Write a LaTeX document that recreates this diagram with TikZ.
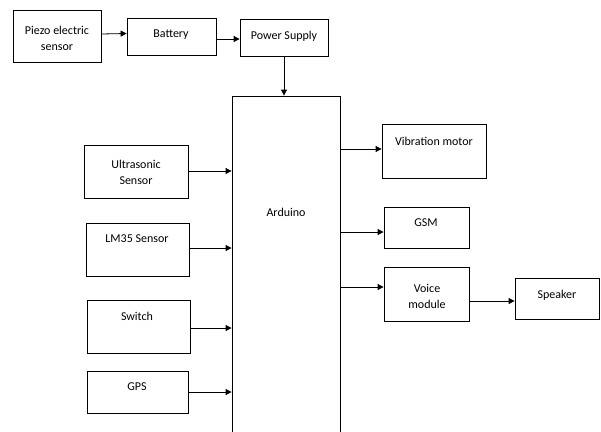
\documentclass[tikz,border=0pt]{standalone}
\usepackage{fontspec}
\setmainfont{Carlito}
\usetikzlibrary{arrows.meta,calc}
\begin{document}
\begin{tikzpicture}[x=1pt,y=-1pt,
  box/.style={draw=black,line width=0.8pt,inner sep=0pt},
  txt/.style={font=\fontsize{12}{14}\selectfont,inner sep=0pt,align=center},
  arr/.style={line width=0.8pt,-{Triangle[length=6pt,width=6pt]}}]
\useasboundingbox (0,0) rectangle (601,431);
\fill[white] (0,0) rectangle (601,431);
% boxes: (centre) minimum sizes from pixel extents
\node[box,minimum width=88pt,minimum height=52pt] (pz) at (57,36) {};
\node[box,minimum width=89pt,minimum height=37pt] (bat) at (171.5,36.5) {};
\node[box,minimum width=88pt,minimum height=37pt] (ps) at (284,37.5) {};
\node[box,minimum width=108pt,minimum height=380pt] (ard) at (286,286) {};
\node[box,minimum width=104pt,minimum height=53pt] (us) at (136,171.5) {};
\node[box,minimum width=103pt,minimum height=53pt] (lm) at (137.5,249.5) {};
\node[box,minimum width=103pt,minimum height=53pt] (sw) at (138.5,326.5) {};
\node[box,minimum width=101pt,minimum height=42pt] (gps) at (137.5,392) {};
\node[box,minimum width=104pt,minimum height=54pt] (vib) at (434,151) {};
\node[box,minimum width=85pt,minimum height=41pt] (gsm) at (426.5,227.5) {};
\node[box,minimum width=85pt,minimum height=54pt] (voice) at (426.5,294) {};
\node[box,minimum width=84pt,minimum height=41pt] (spk) at (557,298.5) {};
% texts
\node[txt] (tpz) at (57,38) {Piezo electric\\[2pt]sensor};
\node[txt] (tbat) at (171,35) {Battery};
\node[txt] (tps) at (284,36) {Power Supply};
\node[txt] (tard) at (286,212) {Arduino};
\node[txt] (tus) at (136,172.5) {Ultrasonic\\[2pt]Sensor};
\node[txt] (tlm) at (137,239) {LM35 Sensor};
\node[txt] (tsw) at (137,316) {Switch};
\node[txt] (tgps) at (137,387) {GPS};
\node[txt] (tvib) at (434,141) {Vibration motor};
\node[txt] (tgsm) at (426,223) {GSM};
\node[txt] (tvoice) at (427,296) {Voice\\[2pt]module};
\node[txt] (tspk) at (557,295) {Speaker};
% connectors
\draw[arr] (pz.east |- 0,34) -- (bat.west |- 0,33.5);
\draw[arr] (bat.east |- 0,39) -- (ps.west |- 0,39);
\draw[arr] (ps.south) -- (ps.south |- ard.north);
\draw[arr] (us.east |- 0,171) -- (ard.west |- 0,171);
\draw[arr] (lm.east |- 0,248) -- (ard.west |- 0,248);
\draw[arr] (sw.east |- 0,328) -- (ard.west |- 0,328);
\draw[arr] (gps.east |- 0,392) -- (ard.west |- 0,392);
\draw[arr] (ard.east |- 0,149) -- (vib.west |- 0,149);
\draw[arr] (ard.east |- 0,232) -- (gsm.west |- 0,232);
\draw[arr] (ard.east |- 0,287) -- (voice.west |- 0,287);
\draw[arr] (voice.east |- 0,301) -- (spk.west |- 0,301);
\end{tikzpicture}
\end{document}
